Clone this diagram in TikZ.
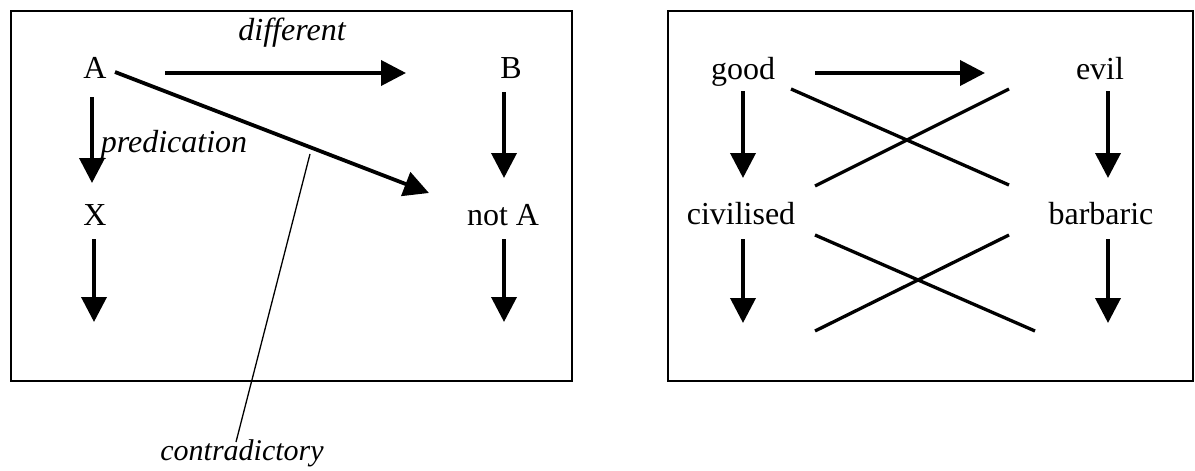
\documentclass[tikz,border=0pt]{standalone}
\usepackage{fontspec}
\setmainfont{Liberation Serif}
\usetikzlibrary{arrows.meta}
\tikzset{
  lbl/.style={anchor=base, inner sep=0pt, font=\fontsize{32}{38}\selectfont},
  ilbl/.style={anchor=base, inner sep=0pt, font=\fontsize{32}{38}\selectfont\itshape},
  arr/.style={line width=3.8pt, -{Triangle[length=25pt,width=25pt]}},
  xline/.style={line width=3.3pt},
  thin/.style={line width=1.3pt},
  frame/.style={line width=2pt}
}
\begin{document}
\begin{tikzpicture}[x=1pt,y=-1pt]
\useasboundingbox (0,0) rectangle (1195,471);
% frames
\draw[frame] (11,11) rectangle (572,381);
\draw[frame] (668,11) rectangle (1193,381);
% left texts
\node[lbl] (A) at (95,78) {A};
\node[lbl] (B) at (511,78) {B};
\node[lbl] (X) at (95,225) {X};
\node[lbl] (notA) at (503,225) {not A};
\node[ilbl] (diff) at (292,40) {different};
\node[ilbl] (pred) at (174,152) {predication};
\node[ilbl, font=\fontsize{30}{36}\selectfont\itshape] (contra) at (242,460) {contradictory};
% left coordinates
\coordinate (ab1) at (165,73);   \coordinate (ab2) at (406,73);
\coordinate (ax1) at (92,97);    \coordinate (ax2) at (92,183);
\coordinate (bn1) at (504,92);   \coordinate (bn2) at (504,178);
\coordinate (xd1) at (94,239);   \coordinate (xd2) at (94,322);
\coordinate (nd1) at (504,239);  \coordinate (nd2) at (504,322);
\coordinate (an1) at (115,72);   \coordinate (an2) at (429,193);
\coordinate (ct1) at (310,154);  \coordinate (ct2) at (236,442);
\draw[arr] (ab1) -- (ab2);
\draw[arr] (ax1) -- (ax2);
\draw[arr] (bn1) -- (bn2);
\draw[arr] (xd1) -- (xd2);
\draw[arr] (nd1) -- (nd2);
\draw[arr] (an1) -- (an2);
\draw[thin] (ct1) -- (ct2);
% right texts
\node[lbl] (good) at (743,79) {good};
\node[lbl] (evil) at (1100,79) {evil};
\node[lbl] (civ) at (741,224) {civilised};
\node[lbl] (barb) at (1101,224) {barbaric};
% right coordinates
\coordinate (ge1) at (815,73);   \coordinate (ge2) at (985,73);
\coordinate (gc1) at (743,91);   \coordinate (gc2) at (743,178);
\coordinate (eb1) at (1108,91);  \coordinate (eb2) at (1108,178);
\coordinate (cd1) at (743,239);  \coordinate (cd2) at (743,323);
\coordinate (bd1) at (1108,239); \coordinate (bd2) at (1108,323);
\coordinate (p1) at (791,89);    \coordinate (p2) at (1009,185);
\coordinate (q1) at (815,186);   \coordinate (q2) at (1009,89);
\coordinate (r1) at (815,235);   \coordinate (r2) at (1035,331);
\coordinate (s1) at (815,331);   \coordinate (s2) at (1009,235);
\draw[arr] (ge1) -- (ge2);
\draw[arr] (gc1) -- (gc2);
\draw[arr] (eb1) -- (eb2);
\draw[arr] (cd1) -- (cd2);
\draw[arr] (bd1) -- (bd2);
\draw[xline] (p1) -- (p2);
\draw[xline] (q1) -- (q2);
\draw[xline] (r1) -- (r2);
\draw[xline] (s1) -- (s2);
\end{tikzpicture}
\end{document}
